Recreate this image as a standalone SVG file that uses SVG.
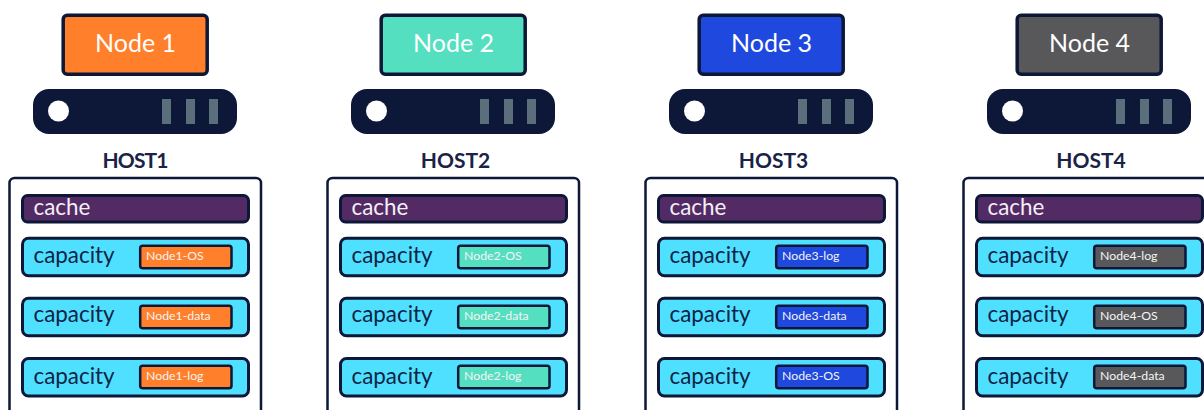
<svg xmlns="http://www.w3.org/2000/svg" width="1204" height="410" viewBox="0 0 1204 410">
<style>
text{font-family:"Lato","Liberation Sans",sans-serif}
.node{stroke:#0d1738;stroke-width:3.5}
.nt{font-size:25px;fill:#fff;text-anchor:middle}
.srv{fill:#0d1738}
.bar{fill:#5a6e7b}
.ht{font-size:21px;font-weight:700;fill:#1a2347;text-anchor:middle}
.box{fill:#fff;stroke:#0d1738;stroke-width:2.5}
.cache{fill:#522a64;stroke:#0d1738;stroke-width:3}
.cap{fill:#50e0ff;stroke:#0d1738;stroke-width:3}
.tag{stroke:#0d1738;stroke-width:2.5}
.ct{font-size:22.4px;fill:#f4eef6}
.pt{font-size:22.4px;fill:#0d2447}
.tt{font-size:12.300px;fill:#f4f4f4}
</style>
<defs>
<g id="srv"><rect class="srv" x="33" y="89" width="204" height="45" rx="16"/><circle cx="58.5" cy="111" r="10.5" fill="#fff"/><rect class="bar" x="162" y="99" width="9" height="25"/><rect class="bar" x="186" y="99" width="9" height="25"/><rect class="bar" x="209" y="99" width="9" height="25"/></g>
<g id="frame"><rect class="box" x="9.500" y="178" width="251.500" height="250" rx="5"/><rect class="cache" x="22.500" y="195.500" width="226" height="26.500" rx="5"/><rect class="cap" x="22.500" y="238.300" width="226" height="37.500" rx="6"/><rect class="cap" x="22.500" y="298.300" width="226" height="37.500" rx="6"/><rect class="cap" x="22.500" y="358.500" width="226" height="37.500" rx="6"/><text class="ct" x="33.500" y="215">cache</text><text class="pt" x="33.500" y="263">capacity</text><text class="pt" x="33.500" y="322">capacity</text><text class="pt" x="33.500" y="384">capacity</text></g>
</defs>
<g id="connectors"/>
<g id="host1">
<rect class="node" x="63.200" y="15.200" width="144" height="59" rx="4" fill="#ff7f2a"/><text class="nt" x="135.500" y="51.500">Node 1</text>
<use href="#srv"/><text class="ht" x="135.500" y="168" textLength="66">HOST1</text><use href="#frame"/>
<rect class="tag" x="140.200" y="245.800" width="91.300" height="22.500" rx="2.500" fill="#ff7f2a"/><text class="tt" x="146" y="260">Node1-OS</text>
<rect class="tag" x="140.200" y="305.800" width="91.300" height="22.500" rx="2.500" fill="#ff7f2a"/><text class="tt" x="146" y="320">Node1-data</text>
<rect class="tag" x="140.200" y="365.800" width="91.300" height="22.500" rx="2.500" fill="#ff7f2a"/><text class="tt" x="146" y="380">Node1-log</text>
</g>
<g id="host2" transform="translate(318 0)">
<rect class="node" x="63.200" y="15.200" width="144" height="59" rx="4" fill="#54dfc0"/><text class="nt" x="135.500" y="51.500">Node 2</text>
<use href="#srv"/><text class="ht" x="137.500" y="168">HOST2</text><use href="#frame"/>
<rect class="tag" x="140.200" y="245.800" width="91.300" height="22.500" rx="2.500" fill="#54dfc0"/><text class="tt" x="146" y="260">Node2-OS</text>
<rect class="tag" x="140.200" y="305.800" width="91.300" height="22.500" rx="2.500" fill="#54dfc0"/><text class="tt" x="146" y="320">Node2-data</text>
<rect class="tag" x="140.200" y="365.800" width="91.300" height="22.500" rx="2.500" fill="#54dfc0"/><text class="tt" x="146" y="380">Node2-log</text>
</g>
<g id="host3" transform="translate(636 0)">
<rect class="node" x="63.200" y="15.200" width="144" height="59" rx="4" fill="#1f48de"/><text class="nt" x="135.500" y="51.500">Node 3</text>
<use href="#srv"/><text class="ht" x="137.500" y="168">HOST3</text><use href="#frame"/>
<rect class="tag" x="140.200" y="245.800" width="91.300" height="22.500" rx="2.500" fill="#1f48de"/><text class="tt" x="146" y="260">Node3-log</text>
<rect class="tag" x="140.200" y="305.800" width="91.300" height="22.500" rx="2.500" fill="#1f48de"/><text class="tt" x="146" y="320">Node3-data</text>
<rect class="tag" x="140.200" y="365.800" width="91.300" height="22.500" rx="2.500" fill="#1f48de"/><text class="tt" x="146" y="380">Node3-OS</text>
</g>
<g id="host4" transform="translate(954 0)">
<rect class="node" x="63.200" y="15.200" width="144" height="59" rx="4" fill="#58585a"/><text class="nt" x="135.500" y="51.500">Node 4</text>
<use href="#srv"/><text class="ht" x="137" y="168">HOST4</text><use href="#frame"/>
<rect class="tag" x="140.200" y="245.800" width="91.300" height="22.500" rx="2.500" fill="#58585a"/><text class="tt" x="146" y="260">Node4-log</text>
<rect class="tag" x="140.200" y="305.800" width="91.300" height="22.500" rx="2.500" fill="#58585a"/><text class="tt" x="146" y="320">Node4-OS</text>
<rect class="tag" x="140.200" y="365.800" width="91.300" height="22.500" rx="2.500" fill="#58585a"/><text class="tt" x="146" y="380">Node4-data</text>
</g>
</svg>
